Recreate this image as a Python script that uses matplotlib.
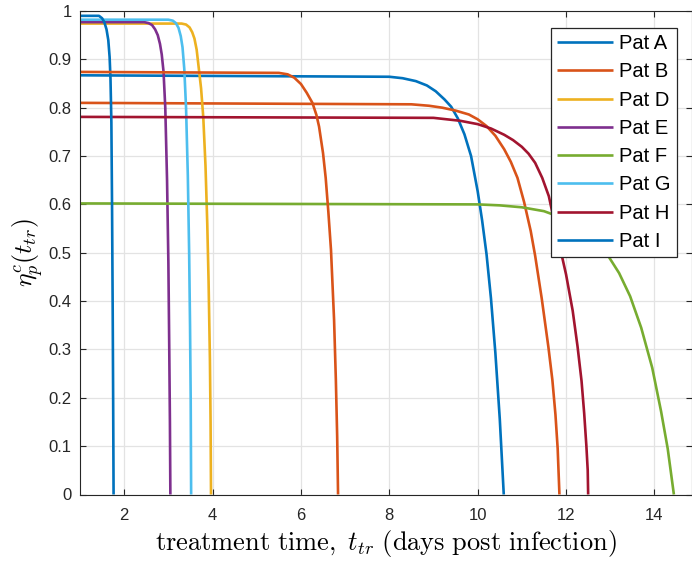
import matplotlib
matplotlib.use("Agg")
import matplotlib.pyplot as plt

plt.rcParams['font.family'] = ['Liberation Sans', 'DejaVu Sans']
plt.rcParams['mathtext.fontset'] = 'cm'

# ---- data ----
patA_t = [1, 8.0, 8.3, 8.6, 8.85, 9.05, 9.25, 9.4, 9.55, 9.7, 9.85, 10.0, 10.1, 10.2, 10.3, 10.4, 10.5, 10.59]
patA_y = [0.867, 0.864, 0.861, 0.855, 0.846, 0.834, 0.817, 0.802, 0.778, 0.745, 0.700, 0.627, 0.567, 0.497, 0.406, 0.293, 0.156, 0.0]

patB_t = [1, 8.5, 8.9, 9.2, 9.5, 9.8, 10.0, 10.2, 10.4, 10.6, 10.75, 10.9, 11.05, 11.2, 11.3, 11.45, 11.6, 11.69, 11.76, 11.81, 11.85]
patB_y = [0.810, 0.807, 0.804, 0.800, 0.794, 0.786, 0.776, 0.762, 0.742, 0.714, 0.688, 0.655, 0.605, 0.545, 0.494, 0.405, 0.305, 0.237, 0.165, 0.095, 0.0]

patD_t = [1, 3.3, 3.4, 3.48, 3.54, 3.59, 3.64, 3.69, 3.74, 3.79, 3.84, 3.88, 3.91, 3.94, 3.955, 3.965]
patD_y = [0.974, 0.974, 0.972, 0.966, 0.956, 0.943, 0.920, 0.880, 0.840, 0.780, 0.680, 0.560, 0.440, 0.280, 0.150, 0.0]

patE_t = [1, 2.45, 2.55, 2.63, 2.70, 2.76, 2.81, 2.85, 2.89, 2.93, 2.97, 3.0, 3.02, 3.035, 3.045]
patE_y = [0.977, 0.977, 0.975, 0.971, 0.962, 0.950, 0.932, 0.910, 0.875, 0.800, 0.650, 0.480, 0.300, 0.150, 0.0]

patF_t = [1, 10.0, 10.5, 11.0, 11.5, 11.8, 12.1, 12.4, 12.7, 12.95, 13.2, 13.45, 13.7, 13.95, 14.15, 14.3, 14.44]
patF_y = [0.602, 0.600, 0.598, 0.594, 0.586, 0.576, 0.561, 0.545, 0.520, 0.494, 0.458, 0.410, 0.345, 0.262, 0.172, 0.095, 0.0]

patG_t = [1, 3.0, 3.1, 3.17, 3.23, 3.28, 3.32, 3.36, 3.40, 3.44, 3.47, 3.49, 3.505, 3.515]
patG_y = [0.982, 0.982, 0.980, 0.975, 0.965, 0.948, 0.925, 0.880, 0.800, 0.660, 0.500, 0.350, 0.200, 0.0]

patH_t = [1, 9.0, 9.6, 10.0, 10.3, 10.6, 10.8, 11.0, 11.15, 11.3, 11.46, 11.61, 11.69, 11.85, 12.0, 12.15, 12.26, 12.35, 12.41, 12.46, 12.49, 12.50]
patH_y = [0.781, 0.779, 0.773, 0.766, 0.757, 0.744, 0.733, 0.719, 0.705, 0.686, 0.655, 0.617, 0.583, 0.516, 0.455, 0.380, 0.306, 0.235, 0.168, 0.100, 0.050, 0.0]

patI_t = [1, 1.43, 1.50, 1.55, 1.60, 1.64, 1.67, 1.69, 1.71, 1.725, 1.74, 1.75, 1.76]
patI_y = [0.99, 0.99, 0.985, 0.977, 0.962, 0.940, 0.905, 0.860, 0.770, 0.600, 0.380, 0.200, 0.0]

extra_t = [1, 5.5, 5.7, 5.85, 6.0, 6.13, 6.26, 6.35, 6.41, 6.5, 6.56, 6.62, 6.68, 6.75, 6.79, 6.82, 6.84]
extra_y = [0.874, 0.872, 0.869, 0.862, 0.849, 0.831, 0.810, 0.785, 0.761, 0.706, 0.655, 0.585, 0.506, 0.361, 0.238, 0.120, 0.0]

labels = ['Pat A', 'Pat B', 'Pat D', 'Pat E', 'Pat F', 'Pat G', 'Pat H', 'Pat I']
colors = ['#0072BD', '#D95319', '#EDB120', '#7E2F8E', '#77AC30', '#4DBEEE', '#A2142F', '#0072BD', '#D95319']
series = [(patA_t, patA_y), (patB_t, patB_y), (patD_t, patD_y), (patE_t, patE_y),
          (patF_t, patF_y), (patG_t, patG_y), (patH_t, patH_y), (patI_t, patI_y),
          (extra_t, extra_y)]

xticks = [2, 4, 6, 8, 10, 12, 14]
yticks = [0, 0.1, 0.2, 0.3, 0.4, 0.5, 0.6, 0.7, 0.8, 0.9, 1]
ytick_labels = ['0', '0.1', '0.2', '0.3', '0.4', '0.5', '0.6', '0.7', '0.8', '0.9', '1']

fig = plt.figure(figsize=(6.92, 5.61), dpi=100)
ax = fig.add_axes([80/692, 1 - 494.5/561, (692-80)/692, (494.5-11)/561])

handles = []
for i, (t, y) in enumerate(series):
    lab = labels[i] if i < len(labels) else '_nolegend_'
    h, = ax.plot(t, y, color=colors[i], lw=1.9, label=lab,
                 solid_joinstyle='round', solid_capstyle='butt')
    handles.append(h)

ax.set_xlim(1, 14.85)
ax.set_ylim(0, 1)
ax.set_xticks(xticks)
ax.set_yticks(yticks)
ax.set_yticklabels(ytick_labels)
ax.grid(True, color='#e3e3e3', lw=0.9)
ax.set_axisbelow(True)
for s in ax.spines.values():
    s.set_color('#262626')
    s.set_linewidth(0.8)
ax.tick_params(direction='in', length=4, width=0.8, color='#262626', labelsize=12,
               labelcolor='#262626', top=True, right=True)
ax.tick_params(axis='x', pad=10)
ax.tick_params(axis='y', pad=6)

ax.set_xlabel(r'$\mathrm{treatment\ time,}\ t_{tr}\ \mathrm{(days\ post\ infection)}$',
              fontsize=19, labelpad=3)
ax.set_ylabel(r'$\eta_p^c(t_{tr})$', fontsize=18.5, labelpad=2)

leg = ax.legend(handles=handles[:8], loc='upper right',
                bbox_to_anchor=((677-80)/612, 1 - (28-11)/483.5),
                borderaxespad=0, fontsize=14.5, frameon=True, fancybox=False,
                framealpha=1, edgecolor='#262626', handlelength=2.8,
                handletextpad=0.3, labelspacing=0.46, borderpad=0.3)
leg.get_frame().set_linewidth(0.9)

fig.savefig('out.png', dpi=100)
